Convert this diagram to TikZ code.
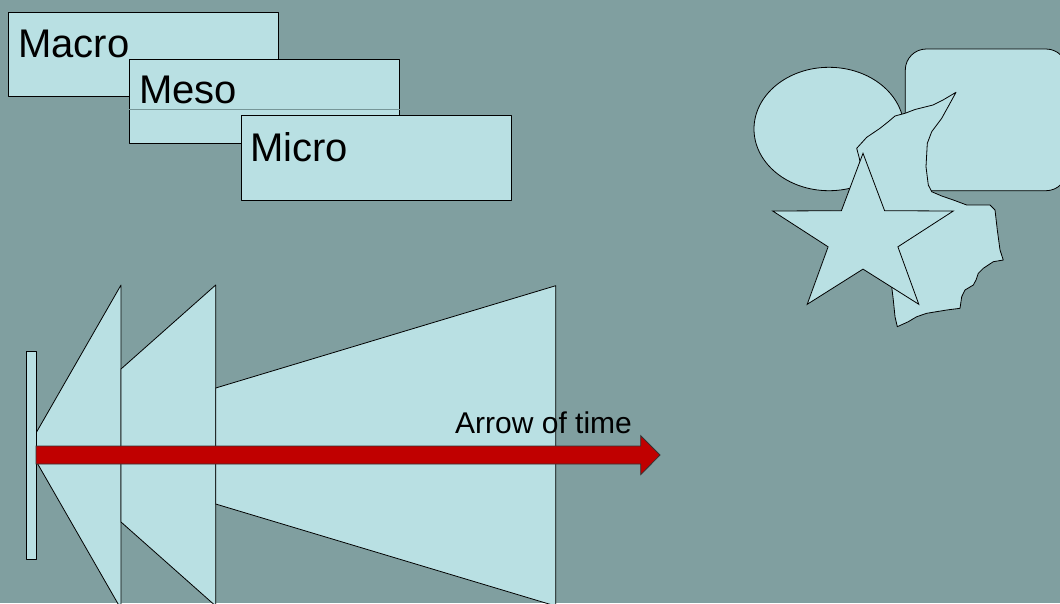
\documentclass[tikz,border=0pt]{standalone}
\usepackage{fontspec}
\setmainfont{Liberation Sans}
\definecolor{bgc}{RGB}{128,159,160}
\definecolor{shapec}{RGB}{185,224,227}
\definecolor{arrowc}{RGB}{192,0,0}
\definecolor{dividerc}{RGB}{118,150,152}
\begin{document}
\begin{tikzpicture}[x=1pt,y=-1pt,
  lbshape/.style={draw=black,fill=shapec,line width=0.8pt,line join=round},
  boxlabel/.style={anchor=base west,inner sep=0pt,font=\fontsize{40}{40}\selectfont},
  smalllabel/.style={anchor=base west,inner sep=0pt,font=\fontsize{30}{30}\selectfont}]
\fill[bgc] (0,0) rectangle (1060,603);
\useasboundingbox (0,0) rectangle (1060,603);
\clip (0,0) rectangle (1060,603);

% stacked boxes
\node[lbshape,rectangle,anchor=north west,minimum width=270pt,minimum height=84pt,inner sep=0pt] (macro) at (8,12) {};
\node[boxlabel] (macrot) at (18,57) {Macro};
\node[lbshape,rectangle,anchor=north west,minimum width=270pt,minimum height=84pt,inner sep=0pt] (meso) at (129,59) {};
\draw[dividerc,line width=0.6pt] (meso.west |- 0,109) -- (meso.east |- 0,109);
\node[boxlabel] (mesot) at (139,103) {Meso};
\node[lbshape,rectangle,anchor=north west,minimum width=270pt,minimum height=85pt,inner sep=0pt] (micro) at (241,115) {};
\node[boxlabel] (microt) at (250,161) {Micro};

% funnel sections
\draw[lbshape] (28,447) -- (121,285) -- (121,609) -- cycle;
\draw[lbshape] (121,369) -- (215.7,285) -- (215.7,606) -- (121,522) -- cycle;
\draw[lbshape] (215.7,388) -- (555.7,285.7) -- (555.7,606) -- (215.7,504) -- cycle;
\draw[lbshape] (26.7,351.3) rectangle (36,559);

% arrow of time
\draw[fill=arrowc,draw=black!80,line width=0.8pt,line join=miter]
  (36,446) -- (640.7,446) -- (640.7,435.7) -- (660,455) -- (640.7,474.7) -- (640.7,464) -- (36,464) -- cycle;
\node[smalllabel] (timet) at (455,433.5) {Arrow of time};

% right group
\draw[lbshape] (829,129) ellipse [x radius=75, y radius=61.7];
\draw[lbshape,rounded corners=21pt] (905.3,49) rectangle (1067,190.7);
\draw[lbshape]
  (856.7,148.3) -- (866.7,137.3) -- (880,128.3) -- (888.3,121.7) -- (895,116) -- (905,113.3)
  -- (915,109.5) -- (933,105) -- (943,100) -- (956,92.3) -- (950,103.3) -- (941.7,118.3)
  -- (931.7,131.7) -- (927.3,143.3) -- (926,166.7) -- (928.3,185) -- (931.7,191.7)
  -- (941.7,196) -- (953.3,200) -- (966.7,205) -- (990,205) -- (995,210) -- (997.3,230)
  -- (1000,250) -- (1003.3,260) -- (993.3,261.7) -- (983.3,268.3) -- (978.3,273.3)
  -- (976,280) -- (973.3,285) -- (965,290) -- (961.7,296.7) -- (960,308.3) -- (946.7,310)
  -- (926.7,313.3) -- (916.7,316.7) -- (908.3,321.7) -- (897.3,326.7) -- (895,316.7)
  -- (893.3,300) -- (891.7,286.7) -- (875,230) -- (862,170) -- (859,157) -- cycle;
\draw[lbshape,line join=miter]
  (863,153.3) -- (884.6,210.7) -- (953.3,211) -- (897.9,246.8) -- (918.8,304.3)
  -- (863,269.1) -- (807.2,304.3) -- (828.1,246.8) -- (772.7,211) -- (841.4,210.7) -- cycle;
\end{tikzpicture}
\end{document}
